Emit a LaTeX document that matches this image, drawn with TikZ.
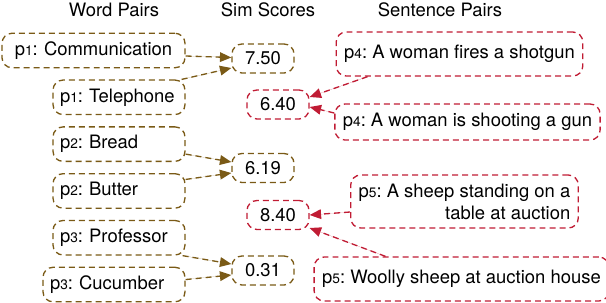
\documentclass[tikz,border=0pt]{standalone}
\usepackage{fontspec}
\setmainfont{TeX Gyre Heros}
\usepackage{xcolor}
\usepackage{tikz}
\usetikzlibrary{arrows.meta, positioning}

\definecolor{wordbrown}{RGB}{122,90,22}
\definecolor{sentred}{RGB}{192,28,52}
\newcommand{\pid}[1]{p{\fontsize{7.8}{9}\selectfont #1}}
\frenchspacing

\begin{document}
\begin{tikzpicture}[
    x=0.02cm, y=-0.02cm,
    font=\fontsize{10.5}{12.5}\selectfont,
    >={Triangle[length=6.5pt, width=5.5pt]},
    box/.style={rectangle, draw, dashed, dash pattern=on 3.4pt off 2.3pt, line width=0.75pt, rounded corners=0.2cm, text=black},
    word/.style={box, draw=wordbrown, minimum height=0.69cm, inner xsep=0.14cm, text width=2.36cm, align=left},
    score/.style={box, minimum width=1.24cm, minimum height=0.58cm, inner sep=0pt},
    sent/.style={box, draw=sentred, inner xsep=0.16cm, align=left},
    header/.style={font=\fontsize{10.5}{12.5}\selectfont},
    warrow/.style={->, dashed, dash pattern=on 3.4pt off 2.3pt, line width=0.75pt, draw=wordbrown, fill=wordbrown},
    sarrow/.style={->, dashed, dash pattern=on 3.4pt off 2.3pt, line width=0.75pt, draw=sentred, fill=sentred},
]
\useasboundingbox (0,0) rectangle (606,302);

% === HEADERS ===
\node[header] (h_word) at (114,10) {Word Pairs};
\node[header] (h_sim) at (268,10) {Sim Scores};
\node[header] (h_sent) at (440,10) {Sentence Pairs};

% === WORD PAIRS ===
\node[word, text width=3.38cm, align=center] (comm) at (93.5,50.5) {\pid{1}: Communication};
\node[word, below=0.22cm of comm.south east, anchor=north east] (tele) {\pid{1}: Telephone};
\node[word, below=0.22cm of tele.south east, anchor=north east] (bread) {\pid{2}: Bread};
\node[word, below=0.22cm of bread.south east, anchor=north east] (butter) {\pid{2}: Butter};
\node[word, below=0.22cm of butter.south east, anchor=north east] (prof) {\pid{3}: Professor};
\node[word, text width=2.56cm, below=0.22cm of prof.south east, anchor=north east] (cucum) {\pid{3}: Cucumber};

% === SIM SCORES ===
\node[score, draw=wordbrown] (s750) at (263,58.5) {7.50};
\node[score, draw=sentred] (s640) at (278,104.5) {6.40};
\node[score, draw=wordbrown] (s619) at (263,168) {6.19};
\node[score, draw=sentred] (s840) at (278,215) {8.40};
\node[score, draw=wordbrown] (s031) at (263,270.5) {0.31};

% === SENTENCE PAIRS ===
\node[sent, minimum width=4.46cm, minimum height=0.88cm] (shot) at (459.5,54) {\pid{4}: A woman fires a shotgun};
\node[sent, minimum width=4.78cm, minimum height=0.72cm] (gun) at (467.5,122) {\pid{4}: A woman is shooting a gun};
\node[sent, minimum width=4.46cm, minimum height=1.06cm, align=right] (sheep) at (464.5,201.5) {\pid{5}: A sheep standing on a\\table at auction};
\node[sent, minimum width=5.74cm, minimum height=0.88cm] (wool) at (461.5,279) {\pid{5}: Woolly sheep at auction house};

% === CONNECTIONS ===
% words to scores
\draw[warrow] ([yshift=-0.11cm]comm.east) -- ([yshift=0.02cm]s750.west);
\draw[warrow] ([xshift=-0.08cm]tele.north east) -- ([yshift=-0.19cm]s750.west);
\draw[warrow] ([yshift=-0.2cm]bread.east) -- ([yshift=0.12cm]s619.west);
\draw[warrow] ([yshift=0.23cm]butter.east) -- ([yshift=-0.1cm]s619.west);
\draw[warrow] ([xshift=-0.06cm]prof.south east) -- ([yshift=0.13cm]s031.west);
\draw[warrow] ([yshift=0.1cm]cucum.east) -- ([yshift=-0.09cm]s031.west);

% sentences to scores
\draw[sarrow] ([xshift=0.64cm]shot.south west) -- ([yshift=0.15cm]s640.east);
\draw[sarrow] ([yshift=0.18cm]gun.west) -- ([yshift=-0.05cm]s640.east);
\draw[sarrow] ([yshift=-0.21cm]sheep.west) -- (s840.east);
\draw[sarrow] ([xshift=1.44cm]wool.north west) -- ([yshift=-0.26cm]s840.east);

\end{tikzpicture}
\end{document}
